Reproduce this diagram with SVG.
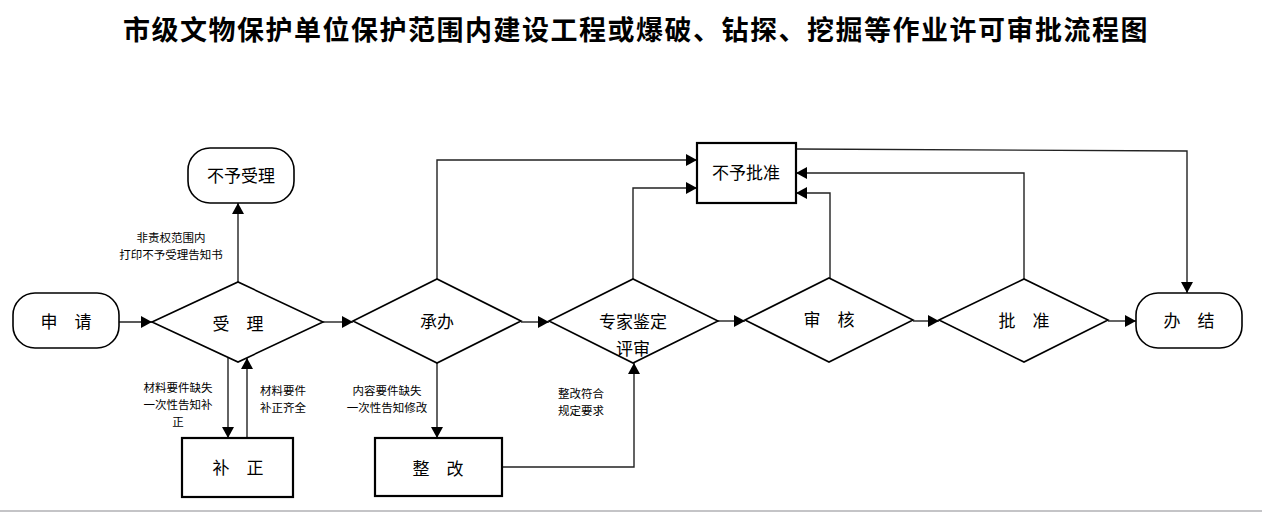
<svg xmlns="http://www.w3.org/2000/svg" width="1262" height="512" viewBox="0 0 1262 512">
<style>
  .title{font-family:"Noto Sans CJK SC","Liberation Sans",sans-serif;font-size:27px;font-weight:bold;fill:#000;letter-spacing:1.5px}
  .t{font-family:"Noto Sans CJK SC","Liberation Sans",sans-serif;font-size:17px;fill:#000;text-anchor:middle}
  .lbl{font-family:"Noto Sans CJK SC","Liberation Sans",sans-serif;font-size:11.5px;fill:#000;text-anchor:middle}
  .term{fill:#fff;stroke:#000;stroke-width:1.6}
  .box{fill:#fff;stroke:#000;stroke-width:2.2}
  .dia{fill:#fff;stroke:#000;stroke-width:1.6}
  .c{fill:none;stroke:#222;stroke-width:1.4;marker-end:url(#ah)}
</style>
<defs>
  <marker id="ah" markerUnits="userSpaceOnUse" markerWidth="12" markerHeight="12" refX="11" refY="6" orient="auto">
    <path d="M0,0 L11,6 L0,12 z" fill="#000"/>
  </marker>
</defs>
<rect width="1262" height="512" fill="#fff"/>
<text class="title" x="636" y="40" text-anchor="middle">市级文物保护单位保护范围内建设工程或爆破、钻探、挖掘等作业许可审批流程图</text>
<line x1="0" y1="511" x2="1262" y2="511" stroke="#b0b0b4" stroke-width="1.5"/>

<g id="connectors">
  <path class="c" d="M119,322 H152"/>
  <path class="c" d="M238,282 V203"/>
  <path class="c" d="M228,358 V438"/>
  <path class="c" d="M247,438 V358"/>
  <path class="c" d="M323,322 H353"/>
  <path class="c" d="M437,279 V160 H697"/>
  <path class="c" d="M437,363 V438"/>
  <path class="c" d="M502,467 H634 V363"/>
  <path class="c" d="M521,322 H549"/>
  <path class="c" d="M633,279 V188 H697"/>
  <path class="c" d="M718,321 H745"/>
  <path class="c" d="M830,278 V193 H796"/>
  <path class="c" d="M913,321 H939"/>
  <path class="c" d="M1024,279 V173 H796"/>
  <path class="c" d="M796,149 L1187,151 V293"/>
  <path class="c" d="M1108,321 H1136"/>
  <text class="lbl" x="171" y="242">非责权范围内</text>
  <text class="lbl" x="171" y="259">打印不予受理告知书</text>
  <text class="lbl" x="178" y="392">材料要件缺失</text>
  <text class="lbl" x="178" y="409">一次性告知补</text>
  <text class="lbl" x="178" y="426">正</text>
  <text class="lbl" x="283" y="395">材料要件</text>
  <text class="lbl" x="283" y="412">补正齐全</text>
  <text class="lbl" x="387" y="395">内容要件缺失</text>
  <text class="lbl" x="387" y="412">一次性告知修改</text>
  <text class="lbl" x="581" y="398">整改符合</text>
  <text class="lbl" x="581" y="415">规定要求</text>
</g>

<g id="shenqing">
  <rect class="term" x="13" y="293" width="106" height="55" rx="22"/>
  <text class="t" x="66" y="328">申　请</text>
</g>
<g id="buyushouli">
  <rect class="term" x="188" y="148" width="106" height="55" rx="22"/>
  <text class="t" x="241" y="182">不予受理</text>
</g>
<g id="shouli">
  <polygon class="dia" points="152,322 238,282 323,322 238,362"/>
  <text class="t" x="238" y="330">受　理</text>
</g>
<g id="buzheng">
  <rect class="box" x="182" y="438" width="111" height="59"/>
  <text class="t" x="238" y="474">补　正</text>
</g>
<g id="chengban">
  <polygon class="dia" points="353,321 437,279 521,321 437,363"/>
  <text class="t" x="437" y="328">承办</text>
</g>
<g id="zhenggai">
  <rect class="box" x="375" y="438" width="127" height="58"/>
  <text class="t" x="438" y="475">整　改</text>
</g>
<g id="zhuanjia">
  <polygon class="dia" points="549,321 633,279 718,321 633,363"/>
  <text class="t" x="633" y="328">专家鉴定</text>
  <text class="t" x="633" y="355">评审</text>
</g>
<g id="buyupizhun">
  <rect class="box" x="697" y="143" width="99" height="60"/>
  <text class="t" x="746" y="179">不予批准</text>
</g>
<g id="shenhe">
  <polygon class="dia" points="745,320 829,278 913,320 829,362"/>
  <text class="t" x="829" y="326">审　核</text>
</g>
<g id="pizhun">
  <polygon class="dia" points="939,320 1024,279 1108,320 1024,362"/>
  <text class="t" x="1024" y="327">批　准</text>
</g>
<g id="banjie">
  <rect class="term" x="1136" y="293" width="106" height="55" rx="22"/>
  <text class="t" x="1189" y="327">办　结</text>
</g>
</svg>
